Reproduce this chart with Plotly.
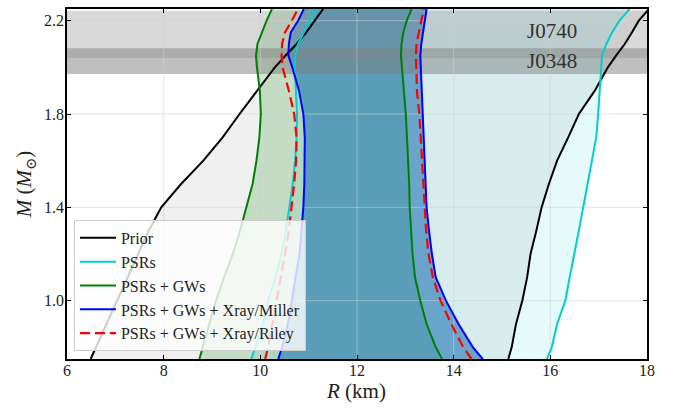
import plotly.graph_objects as go

# Mass grid (solar masses) shared by all contour curves
MASS = [0.75, 0.8, 0.9, 1.0, 1.1, 1.2, 1.3, 1.4, 1.5, 1.6, 1.7, 1.8, 1.9,
        2.0, 2.05, 2.1, 2.15, 2.2, 2.25]

# Radius bounds (km) of each credible region, left / right edge per mass
PRIOR_LEFT = [6.49, 6.60, 6.82, 7.04, 7.26, 7.48, 7.69, 7.95, 8.36, 8.82, 9.22,
              9.57, 9.94, 10.30, 10.52, 10.75, 10.95, 11.13, 11.30]
PRIOR_RIGHT = [15.13, 15.20, 15.29, 15.42, 15.52, 15.59, 15.71, 15.82, 15.97,
               16.14, 16.37, 16.59, 16.92, 17.19, 17.36, 17.54, 17.69, 17.83, 18.04]

PSR_LEFT = [9.81, 9.90, 10.05, 10.16, 10.31, 10.44, 10.53, 10.60, 10.67, 10.72,
            10.75, 10.76, 10.74, 10.71, 10.72, 10.78, 10.90, 11.02, 11.16]
PSR_RIGHT = [15.93, 16.03, 16.14, 16.31, 16.40, 16.50, 16.59, 16.68, 16.77, 16.85,
             16.95, 16.99, 17.02, 17.04, 17.07, 17.16, 17.28, 17.43, 17.64]

GW_LEFT = [8.74, 8.81, 8.94, 9.08, 9.25, 9.43, 9.58, 9.71, 9.84, 9.92, 9.98,
           10.01, 9.99, 9.93, 9.91, 9.94, 10.03, 10.13, 10.24]
GW_RIGHT = [13.76, 13.63, 13.44, 13.31, 13.20, 13.15, 13.12, 13.09, 13.08, 13.06,
            13.04, 13.01, 12.97, 12.92, 12.91, 12.92, 12.96, 13.03, 13.13]

MILLER_LEFT = [10.37, 10.45, 10.57, 10.65, 10.74, 10.81, 10.85, 10.89, 10.91,
               10.92, 10.92, 10.89, 10.80, 10.66, 10.58, 10.59, 10.63, 10.78, 10.90]
MILLER_RIGHT = [14.60, 14.40, 14.10, 13.84, 13.63, 13.55, 13.49, 13.44, 13.42,
                13.40, 13.38, 13.36, 13.34, 13.31, 13.31, 13.33, 13.37, 13.40, 13.44]

RILEY_LEFT = [10.10, 10.16, 10.25, 10.34, 10.43, 10.51, 10.59, 10.65, 10.70,
              10.74, 10.75, 10.70, 10.59, 10.46, 10.44, 10.45, 10.51, 10.65, 10.78]
RILEY_RIGHT = [14.37, 14.20, 13.95, 13.73, 13.57, 13.48, 13.43, 13.40, 13.37,
               13.34, 13.31, 13.29, 13.24, 13.22, 13.22, 13.23, 13.28, 13.34, 13.38]

# Pulsar mass measurements (lower, upper)
PULSARS = ["J0740", "J0348"]
PULSAR_BANDS = [(2.04, 2.243), (1.971, 2.082)]
PULSAR_LABEL_M = [2.157, 2.029]
PULSAR_LABEL_R = 16.04

R_RANGE = [6, 18]
M_RANGE = [0.75, 2.25]
X_TICKS = [6, 8, 10, 12, 14, 16, 18]
Y_TICKS = [1.0, 1.4, 1.8, 2.2]
Y_TICK_TEXT = ["1.0", "1.4", "1.8", "2.2"]
X_TITLE = "<i>R</i> (km)"
Y_TITLE = "<i>M</i> (<i>M</i><sub>⊙</sub>)"

FONT = "'Liberation Serif', 'DejaVu Serif', serif"
TEXT_COLOR = "#222222"

fig = go.Figure()


def region(left, right, fillcolor):
    xs = list(left) + list(reversed(right))
    ys = list(MASS) + list(reversed(MASS))
    fig.add_trace(go.Scatter(x=xs, y=ys, fill="toself", fillcolor=fillcolor,
                             mode="lines", line=dict(width=0), showlegend=False,
                             hoverinfo="skip"))


# Shaded credible regions, from widest to narrowest
region(PRIOR_LEFT, PRIOR_RIGHT, "rgba(0,0,0,0.06)")
region(PSR_LEFT, PSR_RIGHT, "rgba(0,206,209,0.10)")
region(GW_LEFT, GW_RIGHT, "rgba(0,128,0,0.18)")
region(MILLER_LEFT, MILLER_RIGHT, "rgba(31,119,180,0.60)")

# Pulsar mass bands
for (lo, hi), alpha in zip(PULSAR_BANDS, [0.30, 0.50]):
    fig.add_trace(go.Scatter(
        x=[R_RANGE[0], R_RANGE[1], R_RANGE[1], R_RANGE[0], R_RANGE[0]],
        y=[lo, lo, hi, hi, lo], fill="toself",
        fillcolor=f"rgba(128,128,128,{alpha})", mode="lines",
        line=dict(width=0), showlegend=False, hoverinfo="skip"))

# Grid drawn over the shading
gx, gy = [], []
for t in X_TICKS[1:-1]:
    gx += [t, t, None]
    gy += [M_RANGE[0], M_RANGE[1], None]
for t in Y_TICKS:
    gx += [R_RANGE[0], R_RANGE[1], None]
    gy += [t, t, None]
fig.add_trace(go.Scatter(x=gx, y=gy, mode="lines",
                         line=dict(color="rgba(210,210,210,0.55)", width=1),
                         showlegend=False, hoverinfo="skip"))

# Contour boundaries
SERIES = [
    ("Prior", PRIOR_LEFT, PRIOR_RIGHT, "black", "solid"),
    ("PSRs", PSR_LEFT, PSR_RIGHT, "#00ced1", "solid"),
    ("PSRs + GWs", GW_LEFT, GW_RIGHT, "green", "solid"),
    ("PSRs + GWs + Xray/Miller", MILLER_LEFT, MILLER_RIGHT, "blue", "solid"),
    ("PSRs + GWs + Xray/Riley", RILEY_LEFT, RILEY_RIGHT, "red", "10px,5px"),
]
for name, left, right, color, dash in SERIES:
    for i, edge in enumerate([left, right]):
        fig.add_trace(go.Scatter(
            x=edge, y=MASS, mode="lines", name=name, legendgroup=name,
            showlegend=(i == 0),
            line=dict(color=color, width=2.2 if dash != "solid" else 2, dash=dash)))

for name, m in zip(PULSARS, PULSAR_LABEL_M):
    fig.add_annotation(x=PULSAR_LABEL_R, y=m, text=name, showarrow=False,
                       font=dict(family=FONT, size=21, color="#333333"))

# Axis titles placed as paper-anchored text
fig.add_annotation(x=0.498, y=-0.092, xref="paper", yref="paper", text=X_TITLE,
                   showarrow=False, xanchor="center", yanchor="middle",
                   font=dict(family=FONT, size=21, color=TEXT_COLOR))
fig.add_annotation(x=-0.072, y=0.5, xref="paper", yref="paper", text=Y_TITLE,
                   showarrow=False, textangle=-90, xanchor="center",
                   yanchor="middle",
                   font=dict(family=FONT, size=21, color=TEXT_COLOR))

axis_common = dict(showline=True, linecolor="black", linewidth=1.5,
                   mirror="ticks", ticks="inside", ticklen=4, tickwidth=1,
                   tickcolor="black", showgrid=False, zeroline=False,
                   tickfont=dict(family=FONT, size=16, color=TEXT_COLOR))

fig.update_xaxes(range=R_RANGE, tickvals=X_TICKS, ticklabelstandoff=-4,
                 **axis_common)
fig.update_yaxes(range=M_RANGE, tickvals=Y_TICKS, ticktext=Y_TICK_TEXT,
                 ticklabelstandoff=-2, **axis_common)

fig.update_layout(
    width=680, height=408,
    margin=dict(l=67, r=33, t=7, b=49),
    plot_bgcolor="white", paper_bgcolor="white",
    font=dict(family=FONT),
    legend=dict(x=0.012, y=0.023, xanchor="left", yanchor="bottom",
                bgcolor="rgba(255,255,255,0.8)", bordercolor="#cccccc",
                borderwidth=1, font=dict(family=FONT, size=16, color=TEXT_COLOR),
                itemwidth=36, tracegroupgap=0),
)

fig.write_html("out.html")
